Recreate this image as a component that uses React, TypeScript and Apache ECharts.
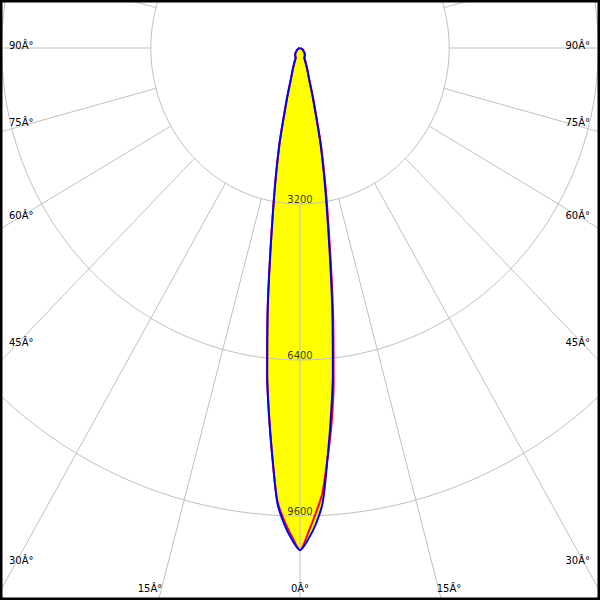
import React, { useEffect, useRef } from "react";
import * as echarts from "echarts";

// Gamma angles (degrees from the downward axis)
const gammaAngles = [0, 1, 2, 3, 4, 5, 6, 7.5, 10, 12.5, 15, 17.5, 20, 22.5, 25, 30, 35, 40, 45, 50, 55, 60, 65, 70, 75, 80, 85, 90];
// Luminous intensity (cd) – blue curve (C0 left / C180 right)
const c0 = [10300, 10080, 9770, 9330, 8450, 7600, 6740, 5280, 3290, 2070, 1100, 610, 440, 290, 220, 200, 180, 160, 130, 100, 80, 60, 45, 30, 20, 10, 5, 0];
const c180 = [10300, 10080, 9770, 9330, 8450, 7600, 6740, 5280, 3290, 2070, 1100, 610, 440, 290, 220, 200, 180, 160, 130, 100, 80, 60, 45, 30, 20, 10, 5, 0];
// red curve (C90 right / C270 left)
const c90 = [10300, 9950, 9560, 9150, 8450, 7750, 6900, 5420, 3400, 2140, 1130, 620, 440, 290, 220, 200, 180, 160, 130, 100, 80, 60, 45, 30, 20, 10, 5, 0];
const c270 = [10300, 10020, 9700, 9300, 8450, 7600, 6740, 5280, 3290, 2070, 1100, 610, 440, 290, 220, 200, 180, 160, 130, 100, 80, 60, 45, 30, 20, 10, 5, 0];

const ringValues = [3200, 6400, 9600];
const ringLabels = ["3200", "6400", "9600"];
const spokeAngles = [0, 15, 30, 45, 60, 75, 90, 105, 120, 135, 150, 165, 180, 195, 210, 225, 240, 255, 270, 285, 300, 315, 330, 345];
const sideLabels = ["90Â°", "75Â°", "60Â°", "45Â°", "30Â°"];
const bottomLabels = ["15Â°", "0Â°", "15Â°"];

// layout
const W = 600;
const H = 600;
const CENTER_Y = 48;
const SY = 156 / 3200; // px per cd vertically
const STRETCH = 1.046;
const SX = SY / STRETCH; // px per cd horizontally
const sideLabelY = [45, 122, 215, 342, 560];
const bottomLabelX = [150, 300, 449];
const FONT = "DejaVu Sans";
const SMOOTH = 0.25;

const toXY = (I: number, g: number, side: number): [number, number] => {
  const r = (g * Math.PI) / 180;
  return [side * I * Math.sin(r), -I * Math.cos(r)];
};

const curve = (left: number[], right: number[]): [number, number][] => {
  const pts: [number, number][] = [[0, 0]];
  for (let i = gammaAngles.length - 1; i >= 0; i--) pts.push(toXY(left[i], gammaAngles[i], -1));
  for (let i = 1; i < gammaAngles.length; i++) pts.push(toXY(right[i], gammaAngles[i], 1));
  pts.push([0, 0]);
  return pts;
};

export default function App() {
  const ref = useRef<HTMLDivElement>(null);
  useEffect(() => {
    if (!ref.current) return;
    const chart = echarts.init(ref.current, undefined, { renderer: "svg" });
    const bluePts = curve(c0, c180);
    const redPts = curve(c270, c90);
    const gray = "#c0c0c0";

    const graphics: any[] = [];
    sideLabels.forEach((t, i) => {
      graphics.push({
        type: "text", x: 9, y: sideLabelY[i],
        style: { text: t, fill: "#000", font: `10px "${FONT}"`, textAlign: "left", textVerticalAlign: "middle" },
        z: 100,
      });
      graphics.push({
        type: "text", x: 590, y: sideLabelY[i],
        style: { text: t, fill: "#000", font: `10px "${FONT}"`, textAlign: "right", textVerticalAlign: "middle" },
        z: 100,
      });
    });
    bottomLabels.forEach((t, i) => {
      graphics.push({
        type: "text", x: bottomLabelX[i], y: 588,
        style: { text: t, fill: "#000", font: `10px "${FONT}"`, textAlign: "center", textVerticalAlign: "middle" },
        z: 100,
      });
    });
    graphics.push({
      type: "rect", shape: { x: 0, y: 0, width: W, height: H },
      style: { fill: "none", stroke: "#000", lineWidth: 5 }, z: 200,
    });

    chart.setOption({
      animation: false,
      backgroundColor: "#fff",
      grid: { left: 0, right: 0, top: 0, bottom: 0 },
      xAxis: { type: "value", min: -(W / 2) / SX, max: W / 2 / SX, show: false },
      yAxis: { type: "value", min: -(H - CENTER_Y) / SY, max: CENTER_Y / SY, show: false },
      graphic: graphics,
      series: [
        {
          type: "custom",
          z: 1,
          data: [[0, 0]],
          silent: true,
          renderItem: (_p: any, api: any) => ({
            type: "polygon",
            shape: { points: bluePts.map((p) => api.coord(p)), smooth: SMOOTH },
            style: { fill: "#ffff00", stroke: "none" },
          }),
        },
        {
          type: "custom",
          z: 2,
          silent: true,
          data: ringValues.map((r) => [0, -r, r]),
          renderItem: (_p: any, api: any) => {
            const r = api.value(2);
            const pts: number[][] = [];
            for (let a = 0; a <= 360; a += 2) pts.push(api.coord(toXY(r, a, 1)));
            return { type: "polyline", shape: { points: pts }, style: { stroke: gray, fill: "none", lineWidth: 1 } };
          },
        },
        {
          type: "custom",
          z: 2,
          silent: true,
          data: spokeAngles.map((a) => [0, 0, a]),
          renderItem: (_p: any, api: any) => {
            const a = api.value(2);
            const p1 = api.coord(toXY(ringValues[0], a, 1));
            const p2 = api.coord(toXY(40000, a, 1));
            return { type: "line", shape: { x1: p1[0], y1: p1[1], x2: p2[0], y2: p2[1] }, style: { stroke: gray, lineWidth: 1 } };
          },
        },
        {
          type: "line",
          z: 3,
          data: redPts,
          showSymbol: false,
          symbol: "none",
          smooth: SMOOTH,
          lineStyle: { color: "#ff0000", width: 2 },
          silent: true,
        },
        {
          type: "line",
          z: 4,
          data: bluePts,
          showSymbol: false,
          symbol: "none",
          smooth: SMOOTH,
          lineStyle: { color: "#0000ff", width: 2 },
          silent: true,
        },
        {
          type: "scatter",
          z: 5,
          symbolSize: 0,
          silent: true,
          data: ringValues.map((r, i) => ({ value: [0, -r], name: ringLabels[i] })),
          label: {
            show: true,
            position: "top",
            distance: 0,
            formatter: (p: any) => p.name,
            color: "#000",
            fontFamily: FONT,
            fontSize: 10,
          },
        },
      ],
    });
    return () => chart.dispose();
  }, []);
  return <div ref={ref} style={{ position: "fixed", left: 0, top: 0, width: W, height: H, overflow: "hidden" }} />;
}
